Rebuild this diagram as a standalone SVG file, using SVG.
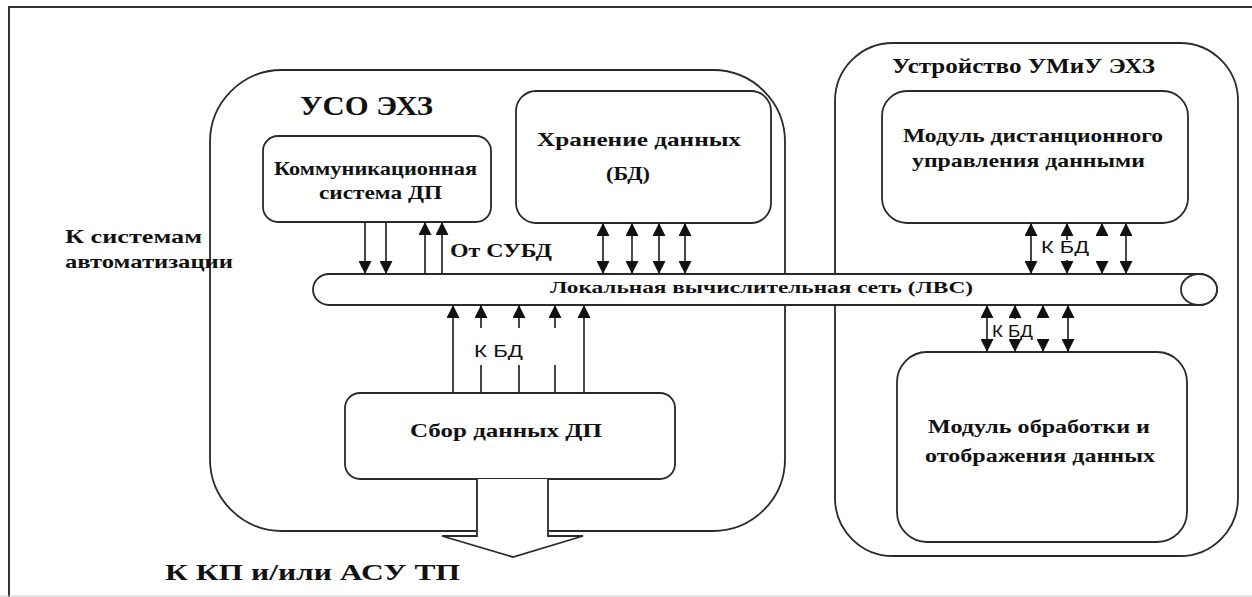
<svg xmlns="http://www.w3.org/2000/svg" width="1252" height="597" viewBox="0 0 1252 597">
<style>
.box{fill:#fff;stroke:#2a2a2a;stroke-width:1.8}
.frame{fill:none;stroke:#333;stroke-width:2}
.ln{stroke:#1a1a1a;stroke-width:1.6;fill:none}
.t{font-family:'Liberation Serif','Times New Roman','DejaVu Serif',serif;font-weight:700;fill:#111}
.s{font-family:'Liberation Sans',Arial,sans-serif;fill:#111;font-size:16px}
</style>
<defs>
<marker id="ah" markerUnits="userSpaceOnUse" markerWidth="13" markerHeight="13" viewBox="0 0 13 13" refX="13" refY="6.5" orient="auto-start-reverse">
<path d="M0,0 L13,6.5 L0,13 Z" fill="#111"/>
</marker>
</defs>
<rect width="1252" height="597" fill="#fff"/>
<line x1="9" y1="6" x2="9" y2="597" stroke="#333" stroke-width="2"/>
<line x1="8" y1="7" x2="1252" y2="7" stroke="#333" stroke-width="2"/>
<line x1="0" y1="596" x2="1252" y2="596" stroke="#ccc" stroke-width="1"/>

<g id="uso">
<rect class="box" x="210" y="70" width="575" height="461" rx="72"/>
<text class="t" font-family="Liberation Serif, serif" x="300" y="115" font-size="28" textLength="133" lengthAdjust="spacingAndGlyphs">УСО ЭХЗ</text>
</g>
<g id="umiu">
<rect class="box" x="835" y="43" width="403" height="513" rx="58"/>
<text class="t" font-family="Liberation Serif, serif" x="892" y="73" font-size="20" textLength="263" lengthAdjust="spacingAndGlyphs">Устройство УМиУ ЭХЗ</text>
</g>

<g id="comm">
<rect class="box" x="263" y="136" width="228" height="86" rx="15"/>
<text class="t" font-family="Liberation Serif, serif" x="274" y="175" font-size="19" textLength="203" lengthAdjust="spacingAndGlyphs">Коммуникационная</text>
<text class="t" font-family="Liberation Serif, serif" x="319" y="199" font-size="19" textLength="123" lengthAdjust="spacingAndGlyphs">система ДП</text>
</g>
<g id="storage">
<rect class="box" x="516" y="91" width="255" height="132" rx="20"/>
<text class="t" font-family="Liberation Serif, serif" x="537" y="146" font-size="19" textLength="204" lengthAdjust="spacingAndGlyphs">Хранение данных</text>
<text class="t" font-family="Liberation Serif, serif" x="606" y="180" font-size="19" textLength="44" lengthAdjust="spacingAndGlyphs">(БД)</text>
</g>
<g id="collect">
<rect class="box" x="345" y="393" width="330" height="86" rx="15"/>
<text class="t" font-family="Liberation Serif, serif" x="410" y="437" font-size="19" textLength="192" lengthAdjust="spacingAndGlyphs">Сбор данных  ДП</text>
</g>
<g id="remote">
<rect class="box" x="882" y="91" width="306" height="132" rx="25"/>
<text class="t" font-family="Liberation Serif, serif" x="903" y="142" font-size="19" textLength="260" lengthAdjust="spacingAndGlyphs">Модуль дистанционного</text>
<text class="t" font-family="Liberation Serif, serif" x="912" y="167" font-size="19" textLength="233" lengthAdjust="spacingAndGlyphs">управления данными</text>
</g>
<g id="process">
<rect class="box" x="897" y="352" width="290" height="190" rx="30"/>
<text class="t" font-family="Liberation Serif, serif" x="928" y="433" font-size="19" textLength="222" lengthAdjust="spacingAndGlyphs">Модуль обработки и</text>
<text class="t" font-family="Liberation Serif, serif" x="925" y="462" font-size="19" textLength="230" lengthAdjust="spacingAndGlyphs">отображения данных</text>
</g>

<g id="lan">
<path class="box" d="M329,274 H1199 A18,15.5 0 0 1 1199,305 H329 A16,15.5 0 0 1 329,274 Z"/>
<ellipse cx="1199" cy="289.5" rx="18" ry="15.5" fill="#fff" stroke="#2a2a2a" stroke-width="1.8"/>
<text class="t" font-family="Liberation Serif, serif" x="550" y="293" font-size="16" textLength="423" lengthAdjust="spacingAndGlyphs">Локальная вычислительная сеть (ЛВС)</text>
</g>

<g id="out-arrow">
<path class="box" d="M477,479 V536 H442 L513,557 L583,536 H548 V479"/>
</g>

<g id="labels">
<text class="t" font-family="Liberation Serif, serif" x="65" y="243" font-size="19" textLength="137" lengthAdjust="spacingAndGlyphs">К  системам</text>
<text class="t" font-family="Liberation Serif, serif" x="65" y="268" font-size="19" textLength="168" lengthAdjust="spacingAndGlyphs">автоматизации</text>
<text class="t" font-family="Liberation Serif, serif" x="450" y="257" font-size="19" textLength="102" lengthAdjust="spacingAndGlyphs">От СУБД</text>
<text class="t" font-family="Liberation Serif, serif" x="165" y="580" font-size="24" textLength="295" lengthAdjust="spacingAndGlyphs">К КП и/или  АСУ ТП</text>
<text class="s" x="474" y="357" textLength="49" lengthAdjust="spacingAndGlyphs">К БД</text>
<text class="s" x="1041" y="253" textLength="48" lengthAdjust="spacingAndGlyphs">К БД</text>
<text class="s" x="992" y="337" textLength="41" lengthAdjust="spacingAndGlyphs">К БД</text>
</g>

<g id="connectors">
<line class="ln" x1="365" y1="222" x2="365" y2="274" marker-end="url(#ah)"/>
<line class="ln" x1="386" y1="222" x2="386" y2="274" marker-end="url(#ah)"/>
<line class="ln" x1="425" y1="274" x2="425" y2="222" marker-end="url(#ah)"/>
<line class="ln" x1="442" y1="274" x2="442" y2="222" marker-end="url(#ah)"/>
<line class="ln" x1="603" y1="223" x2="603" y2="274" marker-start="url(#ah)" marker-end="url(#ah)"/>
<line class="ln" x1="632" y1="223" x2="632" y2="274" marker-start="url(#ah)" marker-end="url(#ah)"/>
<line class="ln" x1="659" y1="223" x2="659" y2="274" marker-start="url(#ah)" marker-end="url(#ah)"/>
<line class="ln" x1="685" y1="223" x2="685" y2="274" marker-start="url(#ah)" marker-end="url(#ah)"/>
<line class="ln" x1="453" y1="393" x2="453" y2="305" marker-end="url(#ah)"/>
<line class="ln" x1="481" y1="328" x2="481" y2="305" marker-end="url(#ah)"/>
<line class="ln" x1="481" y1="365" x2="481" y2="393"/>
<line class="ln" x1="519" y1="328" x2="519" y2="305" marker-end="url(#ah)"/>
<line class="ln" x1="519" y1="365" x2="519" y2="393"/>
<line class="ln" x1="555" y1="328" x2="555" y2="305" marker-end="url(#ah)"/>
<line class="ln" x1="555" y1="365" x2="555" y2="393"/>
<line class="ln" x1="584" y1="393" x2="584" y2="305" marker-end="url(#ah)"/>
<line class="ln" x1="1031" y1="223" x2="1031" y2="274" marker-start="url(#ah)" marker-end="url(#ah)"/>
<line class="ln" x1="1067" y1="240" x2="1067" y2="223" marker-end="url(#ah)"/>
<line class="ln" x1="1067" y1="260" x2="1067" y2="274" marker-end="url(#ah)"/>
<line class="ln" x1="1102" y1="236" x2="1102" y2="223" marker-end="url(#ah)"/>
<line class="ln" x1="1102" y1="261" x2="1102" y2="274" marker-end="url(#ah)"/>
<line class="ln" x1="1126" y1="223" x2="1126" y2="274" marker-start="url(#ah)" marker-end="url(#ah)"/>
<line class="ln" x1="987" y1="305" x2="987" y2="352" marker-start="url(#ah)" marker-end="url(#ah)"/>
<line class="ln" x1="1015" y1="319" x2="1015" y2="305" marker-end="url(#ah)"/>
<line class="ln" x1="1015" y1="339" x2="1015" y2="352" marker-end="url(#ah)"/>
<line class="ln" x1="1043" y1="318" x2="1043" y2="305" marker-end="url(#ah)"/>
<line class="ln" x1="1043" y1="339" x2="1043" y2="352" marker-end="url(#ah)"/>
<line class="ln" x1="1068" y1="305" x2="1068" y2="352" marker-start="url(#ah)" marker-end="url(#ah)"/>
</g>
</svg>
